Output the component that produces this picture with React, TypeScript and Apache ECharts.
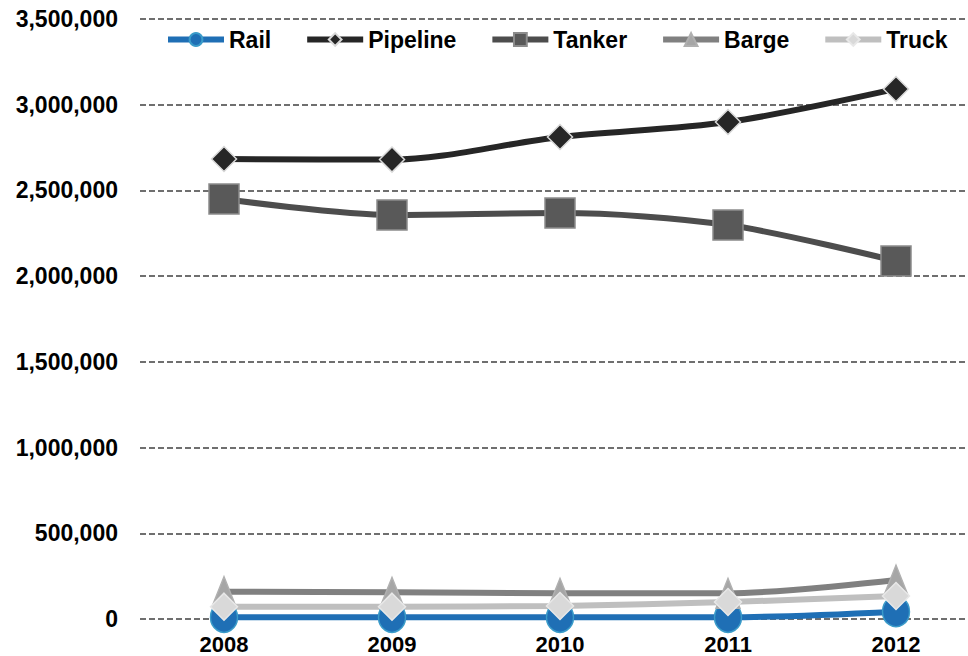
import React, { useEffect, useRef } from "react";
import * as echarts from "echarts";

const years = ["2008", "2009", "2010", "2011", "2012"];
const rail = [10000, 10000, 10000, 10000, 43000];
const pipeline = [2683000, 2680000, 2812000, 2899000, 3092000];
const tanker = [2450000, 2357000, 2368000, 2298000, 2088000];
const barge = [159000, 156000, 150000, 150000, 227000];
const truck = [72000, 72000, 76000, 99000, 134000];
const yTicks = { min: 0, max: 3500000, interval: 500000 };

const FONT = "'Liberation Sans', Arial, sans-serif";

export default function App() {
  const ref = useRef<HTMLDivElement>(null);
  useEffect(() => {
    const chart = echarts.init(ref.current!, null, { renderer: "svg" });
    const mk = (name: string, data: number[], color: string, fill: string, symbol: string, size: number | number[], border: string) => ({
      name,
      type: "line",
      data,
      smooth: 0.3,
      symbol,
      symbolSize: size,
      lineStyle: { color, width: 6 },
      itemStyle: { color: fill, borderColor: border, borderWidth: 1.5 },
    });
    chart.setOption({
      animation: false,
      grid: { left: 140, width: 840, top: 19, bottom: 37, outerBoundsMode: "none", containLabel: false },
      legend: {
        top: 28,
        left: 165,
        padding: 0,
        itemWidth: 56,
        itemHeight: 16,
        itemGap: 33,
        lineStyle: { width: 6 },
        textStyle: { fontFamily: FONT, fontWeight: "bold", fontSize: 23, color: "#000" },
        data: ["Rail", "Pipeline", "Tanker", "Barge", "Truck"],
      },
      xAxis: {
        type: "category",
        data: years,
        boundaryGap: true,
        axisLine: { show: false },
        axisTick: { show: false },
        axisLabel: { fontFamily: FONT, fontWeight: "bold", fontSize: 22, color: "#000", margin: 14 },
      },
      yAxis: {
        type: "value",
        min: yTicks.min,
        max: yTicks.max,
        interval: yTicks.interval,
        axisLine: { show: false },
        axisTick: { show: false },
        splitLine: { lineStyle: { color: "#404040", type: [6, 3], width: 1.5 } },
        axisLabel: {
          fontFamily: FONT,
          fontWeight: "bold",
          fontSize: 23,
          color: "#000",
          margin: 22,
          formatter: (v: number) => v.toLocaleString("en-US"),
        },
      },
      series: [
        mk("Rail", rail, "#1f6fb5", "#1f6fb5", "circle", [27, 30], "#3a9bc9"),
        mk("Pipeline", pipeline, "#262626", "#262626", "diamond", 25, "#d9d9d9"),
        mk("Tanker", tanker, "#4d4d4d", "#595959", "rect", 30, "#8c8c8c"),
        mk("Barge", barge, "#808080", "#a6a6a6", "triangle", [24, 30], "#b0b0b0"),
        mk("Truck", truck, "#bfbfbf", "#d9d9d9", "diamond", 27, "#e8e8e8"),
      ],
    });
    return () => chart.dispose();
  }, []);
  return <div ref={ref} style={{ width: 968, height: 656, position: "absolute", left: 0, top: 0, background: "#fff" }} />;
}
